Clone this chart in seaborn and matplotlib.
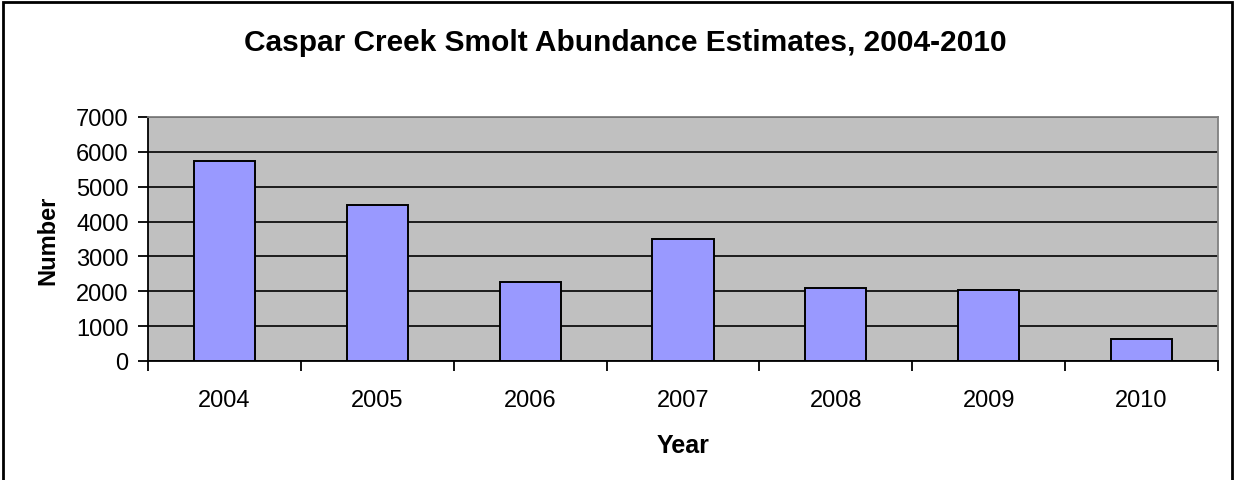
import matplotlib
matplotlib.use("Agg")
import matplotlib.pyplot as plt
from matplotlib.patches import Rectangle
from matplotlib.ticker import FixedLocator, MultipleLocator
import seaborn as sns
import pandas as pd

# Annual smolt abundance estimates
years = ["2004", "2005", "2006", "2007", "2008", "2009", "2010"]
counts = [5735, 4480, 2265, 3510, 2090, 2035, 635]

sns.set_style("white")
plt.rcParams["font.family"] = ["Liberation Sans", "DejaVu Sans"]
plt.rcParams["text.color"] = "black"
plt.rcParams["axes.labelcolor"] = "black"
plt.rcParams["xtick.color"] = "black"
plt.rcParams["ytick.color"] = "black"

df = pd.DataFrame({"Year": years, "Number": counts})

W, H = 1235, 481
fig = plt.figure(figsize=(W / 100, H / 100), dpi=100)
ax = fig.add_axes([148 / W, 1 - 362 / H, (1218 - 148) / W, (362 - 118) / H])
ax.set_facecolor("#C0C0C0")

sns.barplot(data=df, x="Year", y="Number", color="#9999FF", saturation=1,
            width=0.4, edgecolor="black", linewidth=1.4, ax=ax, zorder=3)

ax.set_ylim(0, 7000)
ax.set_xlim(-0.5, len(years) - 0.5)
ax.yaxis.set_major_locator(MultipleLocator(1000))
ax.grid(axis="y", color="black", linewidth=1.2, zorder=1)
ax.set_axisbelow(True)

# category labels centred, ticks at category boundaries
ax.xaxis.set_minor_locator(FixedLocator([i - 0.5 for i in range(len(years) + 1)]))
ax.tick_params(axis="x", which="major", length=0, pad=20, labelsize=17)
ax.tick_params(axis="x", which="minor", length=7, width=1.3, color="black",
               direction="out", bottom=True)
ax.tick_params(axis="y", which="major", length=7, width=1.3, color="black",
               direction="out", left=True, labelsize=17, pad=7)

for side in ["top", "right"]:
    ax.spines[side].set_color("#808080")
    ax.spines[side].set_linewidth(1.3)
for side in ["left", "bottom"]:
    ax.spines[side].set_color("black")
    ax.spines[side].set_linewidth(1.3)

ax.set_xlabel("Year", fontsize=18, fontweight="bold", labelpad=16)
ax.set_ylabel("Number", fontsize=17, fontweight="bold", labelpad=12)

fig.text(625 / W, 1 - 43 / H, "Caspar Creek Smolt Abundance Estimates, 2004-2010",
         ha="center", va="center", fontsize=21.5, fontweight="bold")

# chart frame
fig.patches.append(Rectangle((3 / W, -0.1), (1232 - 3) / W, 1.1 - 3 / H,
                             transform=fig.transFigure, fill=False,
                             edgecolor="black", linewidth=2))

fig.savefig("out.png", dpi=100)
